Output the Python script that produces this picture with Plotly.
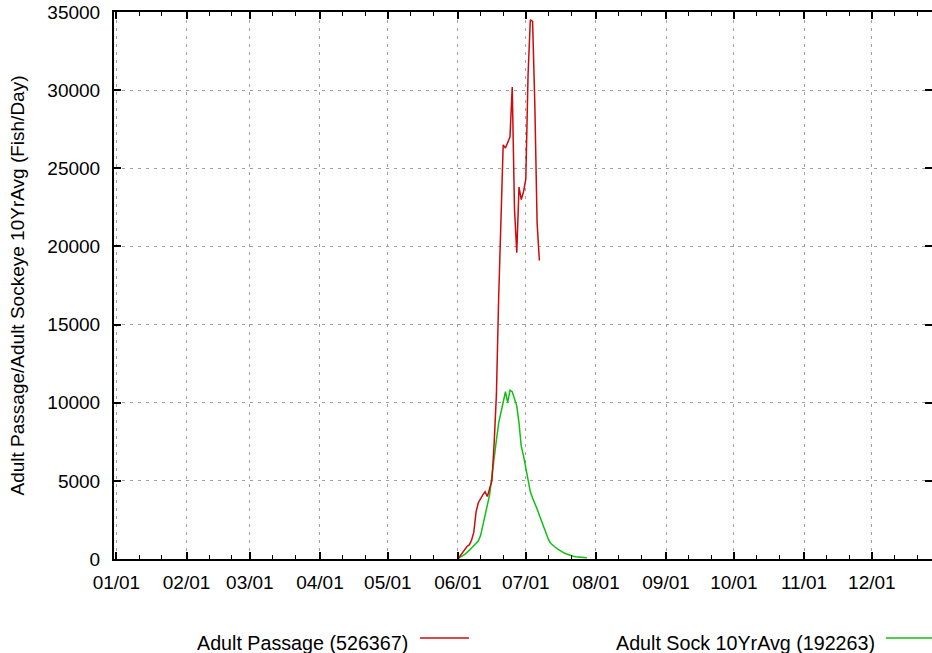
import plotly.graph_objects as go
import pandas as pd

# ---- data (daily values) ----
YEAR = 2014
passage_start = f"{YEAR}-06-01"
passage_values = [0, 200, 400, 600, 800, 900, 1200, 1700, 3000, 3600,
                  3900, 4100, 4300, 4000, 4500, 5000, 7400, 10500, 16700, 21000,
                  26500, 26300, 26700, 27000, 30200, 22400, 19600, 23800, 23000, 23500,
                  24300, 31000, 34500, 34400, 29000, 21500, 19100]

avg_start = f"{YEAR}-06-01"
avg_values = [50, 100, 200, 300, 400, 550, 700, 850, 1000, 1150,
              1500, 2100, 2900, 3500, 4100, 5300, 6600, 7600, 8700, 9300,
              10000, 10700, 10000, 10800, 10700, 10300, 9800, 8700, 7200, 6600,
              5800, 4900, 4300, 3900, 3600, 3200, 2800, 2400, 2000, 1600,
              1250, 1000, 850, 750, 650, 550, 450, 380, 320, 260,
              220, 180, 150, 130, 110, 100, 90, 80]

passage_name = "Adult Passage (526367)"
avg_name = "Adult Sock 10YrAvg (192263)"
y_title = "Adult Passage/Adult Sockeye 10YrAvg (Fish/Day)"
y_ticks = [0, 5000, 10000, 15000, 20000, 25000, 30000, 35000]

passage_dates = pd.date_range(passage_start, periods=len(passage_values), freq="D")
avg_dates = pd.date_range(avg_start, periods=len(avg_values), freq="D")

month_ticks = pd.date_range(f"{YEAR}-01-01", periods=12, freq="MS")
month_labels = [d.strftime("%m/%d") for d in month_ticks]
minor_ticks = [d + pd.Timedelta(days=k) for d in month_ticks for k in (10, 20)]

RED = "#cc0c0c"
GREEN = "#10c010"
FONT = "Liberation Sans, Arial, sans-serif"

fig = go.Figure()
fig.add_trace(go.Scatter(x=avg_dates, y=avg_values, mode="lines",
                         line=dict(color=GREEN, width=1.5), name=avg_name))
fig.add_trace(go.Scatter(x=passage_dates, y=passage_values, mode="lines",
                         line=dict(color=RED, width=1.5), name=passage_name))

L, T, B = 114, 12, 94
W, H = 932, 653
pw = W - L
ph = H - T - B

fig.update_layout(
    width=W, height=H,
    margin=dict(l=L, r=0, t=T, b=B, pad=0, autoexpand=False),
    paper_bgcolor="white", plot_bgcolor="white",
    showlegend=False,
    font=dict(family=FONT, size=19, color="black"),
)

fig.update_xaxes(
    type="date",
    range=[f"{YEAR - 1}-12-30 22:30", f"{YEAR}-12-27 14:00"],
    tickmode="array", tickvals=month_ticks, ticktext=month_labels,
    ticks="inside", ticklen=7, tickwidth=1.5, tickcolor="black",
    showline=True, linecolor="black", linewidth=2, mirror="ticks",
    showgrid=True, gridcolor="#a0a0a0", gridwidth=1, griddash="3px,5px",
    zeroline=False, automargin=False,
    ticklabelstandoff=5,
    tickfont=dict(family=FONT, size=19, color="black"),
    minor=dict(tickmode="array", tickvals=minor_ticks, ticks="inside",
               ticklen=4, tickwidth=1.2, tickcolor="black", showgrid=False),
)
fig.update_yaxes(
    range=[0, 35000],
    tickmode="array", tickvals=y_ticks, tickformat="d",
    ticks="inside", ticklen=7, tickwidth=1.5, tickcolor="black",
    showline=True, linecolor="black", linewidth=2, mirror="ticks",
    showgrid=True, gridcolor="#a0a0a0", gridwidth=1, griddash="3px,5px",
    zeroline=False, automargin=False,
    ticklabelstandoff=8,
    tickfont=dict(family=FONT, size=19, color="black"),
    title=dict(text=y_title, font=dict(family=FONT, size=19, color="black"), standoff=18),
)

def px_x(x):
    return (x - L) / pw

def px_y(y):
    return (H - B - y) / ph

# legend (text followed by line sample, as in the reference)
fig.add_annotation(x=px_x(410), y=px_y(643), xref="paper", yref="paper",
                   text=passage_name, showarrow=False, xanchor="right", yanchor="middle",
                   font=dict(family=FONT, size=19.7, color="black"))
fig.add_annotation(x=px_x(877), y=px_y(643), xref="paper", yref="paper",
                   text=avg_name, showarrow=False, xanchor="right", yanchor="middle",
                   font=dict(family=FONT, size=19.7, color="black"))
fig.add_shape(type="line", xref="paper", yref="paper",
              x0=px_x(420), x1=px_x(469), y0=px_y(638), y1=px_y(638),
              line=dict(color=RED, width=1.5))
fig.add_shape(type="line", xref="paper", yref="paper",
              x0=px_x(886), x1=px_x(940), y0=px_y(638), y1=px_y(638),
              line=dict(color=GREEN, width=1.5))

fig.write_html("out.html",
               config={"displayModeBar": False},
               post_script="document.body.style.margin='0px';document.body.style.overflow='hidden';")
